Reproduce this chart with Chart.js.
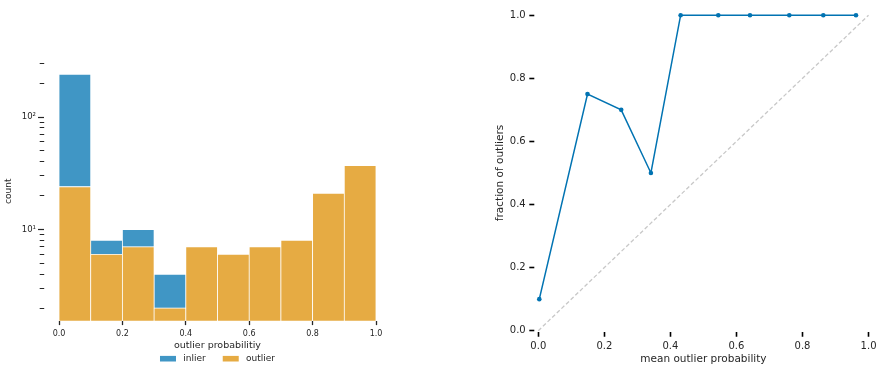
<!DOCTYPE html>
<html>
<head>
<meta charset="utf-8">
<script src="https://cdn.jsdelivr.net/npm/chart.js@4.4.1/dist/chart.umd.min.js"></script>
<style>
  html, body { margin: 0; padding: 0; background: #fff; }
  .panel { position: absolute; top: 0; width: 440px; height: 366px; }
  #histPanel { left: 0; }
  #calibPanel { left: 440px; }
</style>
</head>
<body>
<div class="panel" id="histPanel"><canvas id="histChart" width="440" height="366"></canvas></div>
<div class="panel" id="calibPanel"><canvas id="calibChart" width="440" height="366"></canvas></div>
<script>
// Histogram: bin centres of the outlier probability and counts per class
const binCenters = [0.05, 0.15, 0.25, 0.35, 0.45, 0.55, 0.65, 0.75, 0.85, 0.95];
const outlierCounts = [24, 6, 7, 2, 7, 6, 7, 8, 21, 37];
const inlierCounts = [216, 2, 3, 2, 0, 0, 0, 0, 0, 0];
const countTicks = [2, 3, 4, 5, 6, 7, 8, 9, 10, 20, 30, 40, 50, 60, 70, 80, 90, 100, 200, 300];
const countMin = 1.533;
const countMax = 313;
const probTicks = [0, 0.2, 0.4, 0.6, 0.8, 1.0];

// Calibration: mean predicted probability per bin vs observed fraction
const meanProb = [0.003, 0.149, 0.251, 0.341, 0.431, 0.545, 0.641, 0.760, 0.863, 0.962];
const outlierFraction = [0.1, 0.75, 0.7, 0.5, 1.0, 1.0, 1.0, 1.0, 1.0, 1.0];
const diagonal = [0, 1];

const FONT = '"DejaVu Sans", "Liberation Sans", sans-serif';
const TEXT = '#262626';
const BLUE = '#0173b2';
const BLUE_FILL = '#4096c5';
const ORANGE_FILL = '#e6ab43';

// legend under the histogram, inlier first
const histLegend = {
    id: 'histLegend',
    afterDraw(chart) {
        const { ctx, chartArea } = chart;
        const items = [...chart.data.datasets].reverse();
        const sw = 16, sh = 5.6, gap = 7.3, spacing = 17;
        ctx.save();
        ctx.font = '9px ' + FONT;
        const widths = items.map(d => sw + gap + ctx.measureText(d.label).width);
        const total = widths.reduce((a, b) => a + b, 0) + spacing * (items.length - 1);
        let x = (chartArea.left + chartArea.right) / 2 - total / 2;
        const y = chartArea.bottom + 37.6;
        items.forEach((d, i) => {
            ctx.fillStyle = d.backgroundColor;
            ctx.fillRect(x, y - sh / 2, sw, sh);
            ctx.fillStyle = TEXT;
            ctx.textBaseline = 'middle';
            ctx.textAlign = 'left';
            ctx.fillText(d.label, x + sw + gap, y);
            x += widths[i] + spacing;
        });
        ctx.restore();
    }
};

new Chart(document.getElementById('histChart'), {
    type: 'bar',
    data: {
        datasets: [
            {
                label: 'outlier',
                data: binCenters.map((x, i) => ({ x, y: outlierCounts[i] })),
                backgroundColor: ORANGE_FILL,
                borderColor: '#ffffff',
                borderWidth: 0.75,
                borderSkipped: false,
                barPercentage: 1,
                categoryPercentage: 1
            },
            {
                label: 'inlier',
                data: binCenters.map((x, i) => ({ x, y: inlierCounts[i] || null })),
                backgroundColor: BLUE_FILL,
                borderColor: '#ffffff',
                borderWidth: 0.75,
                borderSkipped: false,
                barPercentage: 1,
                categoryPercentage: 1
            }
        ]
    },
    options: {
        responsive: false,
        devicePixelRatio: 1,
        animation: false,
        layout: { padding: { left: 0, right: 64, top: 61.3, bottom: 14.9 } },
        plugins: { legend: { display: false }, tooltip: { enabled: false } },
        scales: {
            x: {
                type: 'linear',
                min: 0,
                max: 1,
                stacked: true,
                offset: false,
                afterBuildTicks: s => { s.ticks = probTicks.map(v => ({ value: v })); },
                afterFit: s => { s.height = 30; },
                border: { display: false },
                grid: { offset: false, drawOnChartArea: false, tickLength: 4, tickWidth: 1.3, tickColor: TEXT },
                ticks: {
                    autoSkip: false, maxRotation: 0, padding: 4.5, color: TEXT,
                    font: { family: FONT, size: 8 },
                    callback: v => v.toFixed(1)
                },
                title: {
                    display: true, text: 'outlier probabilitiy', color: TEXT,
                    font: { family: FONT, size: 9.5 }, padding: { top: 0, bottom: 0 }
                }
            },
            y: {
                type: 'logarithmic',
                stacked: true,
                min: countMin,
                max: countMax,
                afterBuildTicks: s => { s.ticks = countTicks.map(v => ({ value: v })); },
                afterFit: s => { s.width = 59; },
                border: { display: false },
                grid: {
                    drawOnChartArea: false,
                    tickLength: 21,
                    tickWidth: 1.2,
                    tickColor: TEXT,
                    // major ticks are a little longer than the minor ones
                    tickBorderDash: ctx => (ctx.tick && (ctx.tick.value === 10 || ctx.tick.value === 100))
                        ? [6, 100] : [0, 1.7, 4.5, 100]
                },
                ticks: {
                    autoSkip: false, padding: 2, color: TEXT,
                    font: { family: FONT, size: 8.5 },
                    callback: v => v === 10 ? '10\u00b9' : (v === 100 ? '10\u00b2' : '')
                },
                title: {
                    display: true, text: 'count', color: TEXT,
                    font: { family: FONT, size: 9 }, padding: { top: 3.5, bottom: 0 }
                }
            }
        }
    },
    plugins: [histLegend]
});

new Chart(document.getElementById('calibChart'), {
    type: 'line',
    data: {
        datasets: [
            {
                label: 'observed',
                data: meanProb.map((x, i) => ({ x, y: outlierFraction[i] })),
                borderColor: BLUE,
                backgroundColor: BLUE,
                borderWidth: 1.5,
                pointRadius: 2.3,
                pointBorderWidth: 0,
                clip: false,
                order: 0
            },
            {
                label: 'ideal',
                data: diagonal.map(v => ({ x: v, y: v })),
                borderColor: '#c8c8c8',
                borderWidth: 1.3,
                borderDash: [4, 2.4],
                pointRadius: 0,
                clip: false,
                order: 1
            }
        ]
    },
    options: {
        responsive: false,
        devicePixelRatio: 1,
        animation: false,
        layout: { padding: { left: 50, right: 11, top: 15.2, bottom: 0 } },
        plugins: { legend: { display: false }, tooltip: { enabled: false } },
        scales: {
            x: {
                type: 'linear',
                min: 0,
                max: 1,
                afterBuildTicks: s => { s.ticks = probTicks.map(v => ({ value: v })); },
                afterFit: s => { s.height = 35.3; },
                border: { display: false },
                grid: { drawOnChartArea: false, tickLength: 6, tickWidth: 1.6, tickColor: '#000', tickBorderDash: [0, 1, 5, 100] },
                ticks: {
                    autoSkip: false, maxRotation: 0, padding: 3.5, color: TEXT,
                    font: { family: FONT, size: 10 },
                    callback: v => v.toFixed(1)
                },
                title: {
                    display: true, text: 'mean outlier probability', color: TEXT,
                    font: { family: FONT, size: 10.5 }, padding: { top: 0, bottom: 0.4 }
                }
            },
            y: {
                type: 'linear',
                min: 0,
                max: 1,
                afterBuildTicks: s => { s.ticks = probTicks.map(v => ({ value: v })); },
                afterFit: s => { s.width = 48.3; },
                border: { display: false },
                grid: { drawOnChartArea: false, tickLength: 9, tickWidth: 1.6, tickColor: '#000', tickBorderDash: [5, 100] },
                ticks: {
                    autoSkip: false, padding: 3.6, color: TEXT,
                    font: { family: FONT, size: 10 },
                    callback: v => v.toFixed(1)
                },
                title: {
                    display: true, text: 'fraction of outliers', color: TEXT,
                    font: { family: FONT, size: 10.5 }, padding: { top: 3.7, bottom: 0 }
                }
            }
        }
    }
});
</script>
</body>
</html>
